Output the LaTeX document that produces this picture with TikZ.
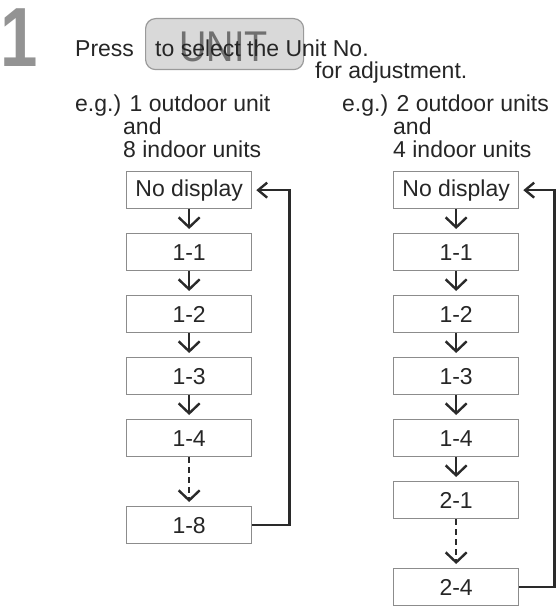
\documentclass[tikz,border=0pt]{standalone}
\usepackage{fontspec}
\setmainfont{Liberation Sans}
\usetikzlibrary{arrows.meta}
\definecolor{textc}{HTML}{262626}
\definecolor{boxc}{HTML}{8C8C8C}
\definecolor{arrc}{HTML}{2A2A2A}
\definecolor{bigc}{HTML}{939393}
\definecolor{btnfill}{HTML}{D9D9D9}
\definecolor{btnline}{HTML}{9A9A9A}
\definecolor{unitc}{HTML}{707070}
\begin{document}
\begin{tikzpicture}[x=1bp,y=-1bp,
  txt/.style={anchor=base west, inner sep=0pt, text=textc, font=\fontsize{23bp}{23bp}\selectfont},
  stepbox/.style={draw=boxc, line width=1.3bp, minimum width=125bp, minimum height=37bp, inner sep=0pt, anchor=north west, text=textc, font=\fontsize{23bp}{23bp}\selectfont},
  arr/.style={draw=arrc, line width=2.4bp, -{Straight Barb[length=10bp,width=21bp]}},
  darr/.style={arr, dash pattern=on 6bp off 4bp},
  fb/.style={draw=arrc, line width=2.4bp, -{Straight Barb[length=9bp,width=15bp]}},
  btn/.style={draw=btnline, fill=btnfill, line width=1.2bp, rounded corners=10bp, minimum width=158bp, minimum height=51bp, anchor=north west, inner sep=0pt}
]
\useasboundingbox (0,0) rectangle (559,607);

% big step number
\node[anchor=base west, inner sep=0pt, text=bigc, font=\fontsize{84bp}{84bp}\selectfont\bfseries] (num) at (0,67) {\scalebox{0.8}[1]{1}};

% header
\node[btn] (btn) at (145,18) {};
\node[anchor=base, inner sep=0pt, text=unitc, font=\fontsize{43bp}{43bp}\selectfont] (unit) at (223.5,62) {\scalebox{0.88}[1]{UNIT}};
\node[txt] (press) at (75,57) {Press};
\node[txt] (sel) at (155,57) {to select the Unit No.};
\node[txt] (adj) at (315,79) {for adjustment.};

% left example
\node[txt] (l1) at (75,112) {e.g.) 1 outdoor unit};
\node[txt] (l2) at (123,135) {and};
\node[txt] (l3) at (123,158) {8 indoor units};

% right example
\node[txt] (r1) at (342,112) {e.g.) 2 outdoor units};
\node[txt] (r2) at (393,135) {and};
\node[txt] (r3) at (393,158) {4 indoor units};

% left column
\node[stepbox] (L0) at (126,171) {No display};
\node[stepbox] (L1) at (126,233) {1-1};
\node[stepbox] (L2) at (126,295) {1-2};
\node[stepbox] (L3) at (126,357) {1-3};
\node[stepbox] (L4) at (126,419) {1-4};
\node[stepbox] (L5) at (126,506) {1-8};
\draw[arr] (L0.south) -- ([yshift=4bp]L1.north);
\draw[arr] (L1.south) -- ([yshift=4bp]L2.north);
\draw[arr] (L2.south) -- ([yshift=4bp]L3.north);
\draw[arr] (L3.south) -- ([yshift=4bp]L4.north);
\draw[darr] (L4.south) -- ([yshift=4bp]L5.north);
\draw[fb] (L5.east) -- ++(37,0) |- ([xshift=4bp]L0.east);

% right column
\node[stepbox] (R0) at (393,171) {No display};
\node[stepbox] (R1) at (393,233) {1-1};
\node[stepbox] (R2) at (393,295) {1-2};
\node[stepbox] (R3) at (393,357) {1-3};
\node[stepbox] (R4) at (393,419) {1-4};
\node[stepbox] (R5) at (393,481) {2-1};
\node[stepbox] (R6) at (393,568) {2-4};
\draw[arr] (R0.south) -- ([yshift=4bp]R1.north);
\draw[arr] (R1.south) -- ([yshift=4bp]R2.north);
\draw[arr] (R2.south) -- ([yshift=4bp]R3.north);
\draw[arr] (R3.south) -- ([yshift=4bp]R4.north);
\draw[arr] (R4.south) -- ([yshift=4bp]R5.north);
\draw[darr] (R5.south) -- ([yshift=4bp]R6.north);
\draw[fb] (R6.east) -- ++(35,0) |- ([xshift=4bp]R0.east);
\end{tikzpicture}
\end{document}
